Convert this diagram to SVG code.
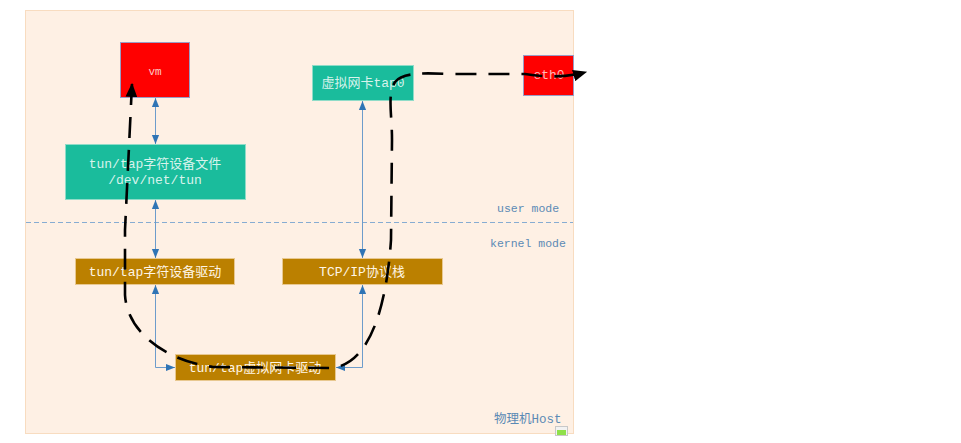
<svg xmlns="http://www.w3.org/2000/svg" width="961" height="443" viewBox="0 0 961 443">
<style>
.t{font-family:"Liberation Mono","Noto Sans CJK SC",monospace;font-size:13px;text-anchor:middle}
.lbl{font-family:"Liberation Mono","Noto Sans CJK SC",monospace;font-size:11.5px;fill:#5b8ab5}
.red{fill:#ff0000;stroke:#9a9cc4;stroke-width:1}
.teal{fill:#1abc9c;stroke:#8fdcc8;stroke-width:1}
.gold{fill:#bb8000;stroke:#e8c890;stroke-width:1}
.bl{fill:none;stroke:#6d9ccb;stroke-width:1}
</style>
<defs>
<marker id="ba" viewBox="0 0 10 10" refX="10" refY="5" markerWidth="9" markerHeight="9" markerUnits="userSpaceOnUse" orient="auto-start-reverse">
<path d="M0,1 L10,5 L0,9 z" fill="#2f74b5"/>
</marker>
<marker id="ka" viewBox="0 0 12 10" refX="11" refY="5" markerWidth="14" markerHeight="12" markerUnits="userSpaceOnUse" orient="auto-start-reverse">
<path d="M0,0 L12,5 L0,10 z" fill="#000"/>
</marker>
</defs>
<rect x="25.5" y="10.5" width="548" height="423" fill="#fef0e4" stroke="#f8dcc0"/>
<line x1="26" y1="222.5" x2="573" y2="222.5" stroke="#86acd2" stroke-width="1" stroke-dasharray="5,3"/>
<text class="lbl" x="497" y="212">user mode</text>
<text class="lbl" x="490" y="247">kernel mode</text>
<text class="lbl" x="494" y="423" style="font-size:12.5px">物理机Host</text>
<rect x="555.5" y="426.5" width="12" height="9" fill="#f2f2f2" stroke="#c8c8c8"/>
<rect x="557" y="430" width="9" height="5" fill="#8fe04a"/>

<g id="vm"><rect class="red" x="120.5" y="42.5" width="69" height="55"/><text class="t" x="155" y="75" fill="#ffc8c8" style="font-size:11px">vm</text></g>
<g id="tunfile"><rect class="teal" x="65.5" y="144.5" width="180" height="55"/><text class="t" x="155" y="168" fill="#d8f3ec">tun/tap字符设备文件</text><text class="t" x="155" y="184" fill="#d8f3ec">/dev/net/tun</text></g>
<g id="tap0"><rect class="teal" x="312.5" y="65.5" width="101" height="35"/><text class="t" x="363" y="87" fill="#d8f3ec">虚拟网卡tap0</text></g>
<g id="eth0"><rect class="red" x="523.5" y="55.5" width="50" height="40"/><text class="t" x="549" y="79" fill="#ffb8b8">eth0</text></g>
<g id="chardrv"><rect class="gold" x="75.5" y="258.5" width="159" height="26"/><text class="t" x="155" y="276" fill="#fff6e6">tun/tap字符设备驱动</text></g>
<g id="tcpip"><rect class="gold" x="282.5" y="258.5" width="160" height="26"/><text class="t" x="362" y="276" fill="#fff6e6">TCP/IP协议栈</text></g>
<g id="nicdrv"><rect class="gold" x="175.5" y="354.5" width="160" height="26"/><text class="t" x="255" y="372" fill="#fff6e6">tun/tap虚拟网卡驱动</text></g>

<g id="connectors">
<path class="bl" d="M155.5,98 L155.5,144" marker-start="url(#ba)" marker-end="url(#ba)"/>
<path class="bl" d="M155.5,200 L155.5,258" marker-start="url(#ba)" marker-end="url(#ba)"/>
<path class="bl" d="M155.5,285 L155.5,367.5 L175,367.5" marker-start="url(#ba)" marker-end="url(#ba)"/>
<path class="bl" d="M362.5,101 L362.5,258" marker-start="url(#ba)" marker-end="url(#ba)"/>
<path class="bl" d="M362.5,285 L362.5,367.5 L336,367.5" marker-start="url(#ba)" marker-end="url(#ba)"/>
<path d="M132,84 L125,230 L125,295 C127,330 162,360 213,367 L330,368 C372,366 387,300 391,240 L392,140 C392,112 387,96 395,82 C403,72 425,73 450,74 L525,74 C545,77 565,78 586,72" fill="none" stroke="#000" stroke-width="2.6" stroke-dasharray="21,12" marker-start="url(#ka)" marker-end="url(#ka)"/>
</g>
</svg>
